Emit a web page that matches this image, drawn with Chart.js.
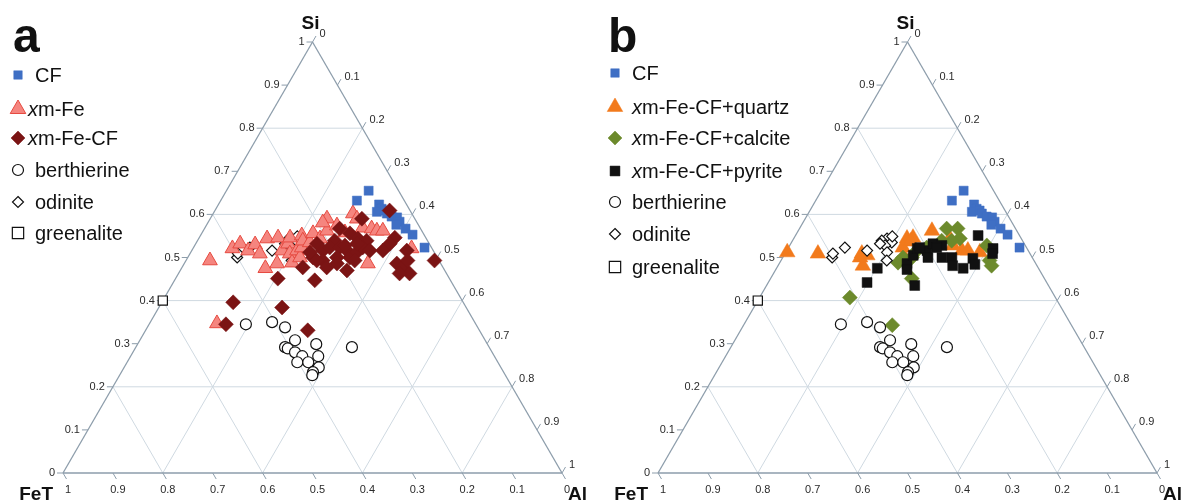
<!DOCTYPE html>
<html>
<head>
<meta charset="utf-8">
<script src="https://cdn.jsdelivr.net/npm/chart.js@4/dist/chart.umd.min.js"></script>
<style>
  html, body { margin: 0; padding: 0; background: #fff; }
  #wrap { position: relative; width: 1186px; height: 500px; overflow: hidden; }
  canvas { position: absolute; top: 0; }
</style>
</head>
<body>
<div id="wrap">
  <canvas id="panelA" width="595" height="500" style="left:0"></canvas>
  <canvas id="panelB" width="591" height="500" style="left:595px"></canvas>
</div>
<script>
// every point is [Si, Al] as a fraction; FeT = 1 - Si - Al
const cfPts = [
  [0.655, 0.285], [0.632, 0.273], [0.623, 0.322], [0.613, 0.332], [0.606, 0.326],
  [0.609, 0.340], [0.602, 0.348], [0.595, 0.361], [0.593, 0.373], [0.583, 0.383],
  [0.576, 0.380], [0.567, 0.403], [0.553, 0.424], [0.523, 0.463]
];
const xmFePts = [
  [0.493, 0.048], [0.347, 0.135], [0.521, 0.079], [0.532, 0.089], [0.516, 0.113],
  [0.530, 0.120], [0.509, 0.140], [0.544, 0.137], [0.475, 0.168], [0.486, 0.186],
  [0.546, 0.158], [0.516, 0.181], [0.532, 0.185], [0.546, 0.182], [0.509, 0.200],
  [0.488, 0.215], [0.516, 0.211], [0.500, 0.225], [0.551, 0.203], [0.523, 0.217],
  [0.539, 0.211], [0.535, 0.227], [0.556, 0.223], [0.544, 0.243], [0.590, 0.234],
  [0.562, 0.248], [0.574, 0.262], [0.558, 0.286], [0.602, 0.280], [0.590, 0.294],
  [0.569, 0.316], [0.567, 0.335], [0.562, 0.348], [0.562, 0.360], [0.486, 0.368],
  [0.521, 0.438], [0.581, 0.230]
];
const xmFeCfPts = [
  [0.609, 0.350], [0.590, 0.304], [0.567, 0.271], [0.556, 0.297], [0.544, 0.319],
  [0.539, 0.275], [0.539, 0.339], [0.546, 0.392], [0.532, 0.389], [0.516, 0.383],
  [0.516, 0.431], [0.532, 0.243], [0.516, 0.263], [0.523, 0.273], [0.523, 0.293],
  [0.516, 0.311], [0.500, 0.325], [0.500, 0.299], [0.493, 0.274], [0.500, 0.251],
  [0.477, 0.242], [0.493, 0.262], [0.512, 0.333], [0.523, 0.339], [0.516, 0.357],
  [0.532, 0.323], [0.470, 0.334], [0.486, 0.426], [0.477, 0.442], [0.463, 0.463],
  [0.463, 0.443], [0.493, 0.444], [0.493, 0.498], [0.447, 0.281], [0.451, 0.205],
  [0.396, 0.143], [0.384, 0.247], [0.345, 0.154], [0.331, 0.325], [0.486, 0.306],
  [0.477, 0.290], [0.512, 0.239], [0.528, 0.301], [0.493, 0.338]
];
const quartzPts = [
  [0.512, 0.003], [0.509, 0.066], [0.509, 0.154], [0.505, 0.167], [0.481, 0.170],
  [0.500, 0.155], [0.544, 0.227], [0.546, 0.238], [0.562, 0.268], [0.544, 0.313],
  [0.516, 0.351], [0.516, 0.363], [0.512, 0.389], [0.528, 0.327], [0.523, 0.229],
  [0.537, 0.238], [0.498, 0.246]
];
const calcitePts = [
  [0.407, 0.181], [0.343, 0.298], [0.451, 0.283], [0.488, 0.237], [0.500, 0.241],
  [0.567, 0.295], [0.567, 0.317], [0.544, 0.333], [0.539, 0.319], [0.516, 0.261],
  [0.523, 0.277], [0.528, 0.395], [0.493, 0.418], [0.539, 0.299], [0.500, 0.259],
  [0.481, 0.428]
];
const pyritePts = [
  [0.475, 0.202], [0.442, 0.198], [0.435, 0.297], [0.486, 0.256], [0.505, 0.259],
  [0.521, 0.259], [0.516, 0.281], [0.532, 0.285], [0.528, 0.305], [0.500, 0.291],
  [0.500, 0.319], [0.500, 0.339], [0.481, 0.350], [0.475, 0.374], [0.498, 0.382],
  [0.551, 0.366], [0.521, 0.411], [0.509, 0.416], [0.523, 0.263], [0.523, 0.297],
  [0.484, 0.393], [0.472, 0.263]
];
const berthierinePts = [
  [0.345, 0.194], [0.350, 0.244], [0.338, 0.276], [0.308, 0.311], [0.299, 0.358],
  [0.292, 0.433], [0.292, 0.299], [0.289, 0.306], [0.280, 0.325], [0.271, 0.344],
  [0.271, 0.376], [0.257, 0.341], [0.257, 0.363], [0.245, 0.390], [0.234, 0.384],
  [0.227, 0.386]
];
const odinitePts = [
  [0.500, 0.099], [0.509, 0.096], [0.523, 0.113], [0.516, 0.161], [0.544, 0.187],
  [0.539, 0.179], [0.535, 0.201], [0.528, 0.191], [0.532, 0.179], [0.512, 0.203],
  [0.493, 0.212], [0.549, 0.195]
];
const greenalitePts = [[0.40, 0.00]];

const tickValues = [0, 0.1, 0.2, 0.3, 0.4, 0.5, 0.6, 0.7, 0.8, 0.9, 1];
const gridValues = [0.2, 0.4, 0.6, 0.8];

const K = Math.sqrt(3) / 2;
const FONT = '"Liberation Sans", Arial, Helvetica, sans-serif';

function toXY(p) {
  return { x: p[1] + p[0] / 2, y: p[0] * K };
}

function fmt(v) {
  return v === 0 ? '0' : v === 1 ? '1' : v.toFixed(1);
}

function drawMarker(ctx, shape, x, y, r, fill, stroke, lw) {
  ctx.save();
  ctx.beginPath();
  if (shape === 'rect') {
    const s = r * Math.SQRT1_2;
    ctx.rect(x - s, y - s, 2 * s, 2 * s);
  } else if (shape === 'rectRot') {
    ctx.moveTo(x, y - r);
    ctx.lineTo(x + r, y);
    ctx.lineTo(x, y + r);
    ctx.lineTo(x - r, y);
    ctx.closePath();
  } else if (shape === 'triangle') {
    ctx.moveTo(x, y - r);
    ctx.lineTo(x + r * K, y + r / 2);
    ctx.lineTo(x - r * K, y + r / 2);
    ctx.closePath();
  } else {
    ctx.arc(x, y, r, 0, Math.PI * 2);
  }
  ctx.fillStyle = fill;
  ctx.fill();
  ctx.lineWidth = lw;
  ctx.strokeStyle = stroke;
  ctx.stroke();
  ctx.restore();
}

const styles = {
  cf: { shape: 'rect', r: 6.4, fill: '#3f6fc4', stroke: '#3f6fc4', lw: 0.5 },
  xmFe: { shape: 'triangle', r: 8.5, fill: '#f5857f', stroke: '#e64a40', lw: 1 },
  xmFeCf: { shape: 'rectRot', r: 7.5, fill: '#7b1414', stroke: '#7b1414', lw: 0.5 },
  quartz: { shape: 'triangle', r: 9, fill: '#f27a1c', stroke: '#f27a1c', lw: 0.5 },
  calcite: { shape: 'rectRot', r: 7.5, fill: '#6c8a2c', stroke: '#6c8a2c', lw: 0.5 },
  pyrite: { shape: 'rect', r: 7, fill: '#111111', stroke: '#111111', lw: 0.5 },
  berthierine: { shape: 'circle', r: 5.5, fill: '#ffffff', stroke: '#111111', lw: 1.2 },
  odinite: { shape: 'rectRot', r: 5.5, fill: '#ffffff', stroke: '#111111', lw: 1.2 },
  greenalite: { shape: 'rect', r: 6.5, fill: '#ffffff', stroke: '#111111', lw: 1.2 }
};

function makeSet(label, pts, st, order) {
  return {
    label: label,
    data: pts.map(toXY),
    pointStyle: st.shape,
    pointRadius: st.r,
    backgroundColor: st.fill,
    borderColor: st.stroke,
    borderWidth: st.lw,
    order: order,
    clip: false
  };
}

function makeFrame(letter, legendRows) {
  return {
    id: 'ternaryFrame',
    beforeDatasetsDraw(chart) {
      const ctx = chart.ctx;
      const xs = chart.scales.x, ys = chart.scales.y;
      const P = (si, al) => ({ x: xs.getPixelForValue(al + si / 2), y: ys.getPixelForValue(si * K) });
      const line = (a, b) => { ctx.beginPath(); ctx.moveTo(a.x, a.y); ctx.lineTo(b.x, b.y); ctx.stroke(); };

      ctx.save();
      ctx.lineWidth = 1;
      ctx.strokeStyle = '#cfd9e1';
      gridValues.forEach(v => {
        line(P(v, 0), P(v, 1 - v));
        line(P(0, v), P(1 - v, v));
        line(P(0, 1 - v), P(1 - v, 0));
      });

      ctx.strokeStyle = '#8d9dab';
      ctx.lineWidth = 1.3;
      line(P(0, 0), P(1, 0));
      line(P(1, 0), P(0, 1));
      line(P(0, 0), P(0, 1));

      ctx.lineWidth = 1;
      ctx.fillStyle = '#2a2a2a';
      ctx.font = '11px ' + FONT;
      ctx.textBaseline = 'middle';
      tickValues.forEach(v => {
        // Si on the left side
        let p = P(v, 0);
        line(p, { x: p.x - 6, y: p.y });
        ctx.textAlign = 'right';
        ctx.fillText(fmt(v), p.x - 8, p.y);
        // FeT along the bottom
        p = P(0, 1 - v);
        line(p, { x: p.x + 3.5, y: p.y + 6 });
        ctx.textAlign = 'center';
        ctx.fillText(fmt(v), p.x + 5, p.y + 17);
        // Al on the right side
        p = P(1 - v, v);
        line(p, { x: p.x + 3.5, y: p.y - 6 });
        ctx.textAlign = 'left';
        ctx.fillText(fmt(v), p.x + 7, p.y - 8);
      });
      ctx.restore();
    },
    afterDraw(chart) {
      const ctx = chart.ctx;
      const xs = chart.scales.x, ys = chart.scales.y;
      const P = (si, al) => ({ x: xs.getPixelForValue(al + si / 2), y: ys.getPixelForValue(si * K) });
      ctx.save();
      ctx.fillStyle = '#111';
      ctx.textBaseline = 'alphabetic';

      ctx.font = 'bold 48px ' + FONT;
      ctx.textAlign = 'left';
      ctx.fillText(letter, 13, 52);

      ctx.font = 'bold 19px ' + FONT;
      const apex = P(1, 0), fe = P(0, 0), al = P(0, 1);
      ctx.textAlign = 'center';
      ctx.fillText('Si', apex.x - 2, 29);
      ctx.textAlign = 'right';
      ctx.fillText('FeT', fe.x - 10, 500);
      ctx.textAlign = 'left';
      ctx.fillText('Al', al.x + 6, 500);

      ctx.textBaseline = 'middle';
      legendRows.forEach(row => {
        const st = styles[row.key];
        drawMarker(ctx, st.shape, row.mx, row.y, row.r || st.r, st.fill, st.stroke, st.lw);
        let x = row.tx;
        row.parts.forEach(part => {
          ctx.font = (part[1] ? 'italic ' : '') + '20px ' + FONT;
          ctx.fillText(part[0], x, row.y + 1);
          x += ctx.measureText(part[0]).width;
        });
      });
      ctx.restore();
    }
  };
}

function makePanel(id, width, letter, datasets, legendRows) {
  return new Chart(document.getElementById(id), {
    type: 'scatter',
    data: { datasets: datasets },
    options: {
      responsive: false,
      animation: false,
      devicePixelRatio: 1,
      events: [],
      layout: { padding: { left: 63, right: width - 562, top: 42, bottom: 27 } },
      scales: {
        x: { type: 'linear', min: 0, max: 1, display: false },
        y: { type: 'linear', min: 0, max: K, display: false }
      },
      plugins: { legend: { display: false }, tooltip: { enabled: false } }
    },
    plugins: [makeFrame(letter, legendRows)]
  });
}

makePanel('panelA', 595, 'a', [
  makeSet('odinite', odinitePts, styles.odinite, 7),
  makeSet('xm-Fe', xmFePts, styles.xmFe, 6),
  makeSet('CF', cfPts, styles.cf, 5),
  makeSet('xm-Fe-CF', xmFeCfPts, styles.xmFeCf, 4),
  makeSet('berthierine', berthierinePts, styles.berthierine, 3),
  makeSet('greenalite', greenalitePts, styles.greenalite, 2)
], [
  { key: 'cf', mx: 18, y: 75, tx: 35, r: 6, parts: [['CF', false]] },
  { key: 'xmFe', mx: 18, y: 109, tx: 28, r: 9, parts: [['x', true], ['m-Fe', false]] },
  { key: 'xmFeCf', mx: 18, y: 138, tx: 28, r: 7, parts: [['x', true], ['m-Fe-CF', false]] },
  { key: 'berthierine', mx: 18, y: 170, tx: 35, parts: [['berthierine', false]] },
  { key: 'odinite', mx: 18, y: 202, tx: 35, parts: [['odinite', false]] },
  { key: 'greenalite', mx: 18, y: 233, tx: 35, r: 8, parts: [['greenalite', false]] }
]);

makePanel('panelB', 591, 'b', [
  makeSet('CF', cfPts, styles.cf, 8),
  makeSet('xm-Fe-CF+quartz', quartzPts, styles.quartz, 7),
  makeSet('xm-Fe-CF+calcite', calcitePts, styles.calcite, 6),
  makeSet('xm-Fe-CF+pyrite', pyritePts, styles.pyrite, 5),
  makeSet('berthierine', berthierinePts, styles.berthierine, 4),
  makeSet('odinite', odinitePts, styles.odinite, 3),
  makeSet('greenalite', greenalitePts, styles.greenalite, 2)
], [
  { key: 'cf', mx: 20, y: 73, tx: 37, r: 6, parts: [['CF', false]] },
  { key: 'quartz', mx: 20, y: 107, tx: 37, r: 9, parts: [['x', true], ['m-Fe-CF+quartz', false]] },
  { key: 'calcite', mx: 20, y: 138, tx: 37, r: 7, parts: [['x', true], ['m-Fe-CF+calcite', false]] },
  { key: 'pyrite', mx: 20, y: 171, tx: 37, r: 7, parts: [['x', true], ['m-Fe-CF+pyrite', false]] },
  { key: 'berthierine', mx: 20, y: 202, tx: 37, parts: [['berthierine', false]] },
  { key: 'odinite', mx: 20, y: 234, tx: 37, parts: [['odinite', false]] },
  { key: 'greenalite', mx: 20, y: 267, tx: 37, r: 8, parts: [['greenalite', false]] }
]);
</script>
</body>
</html>
